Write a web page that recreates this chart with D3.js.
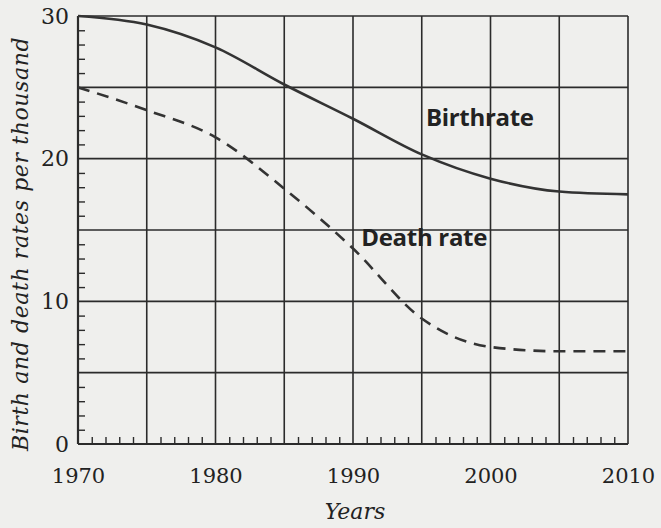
<!DOCTYPE html>
<html>
<head>
<meta charset="utf-8">
<script src="https://cdn.jsdelivr.net/npm/d3@7"></script>
<style>
  body { margin: 0; background: #efefed; }
  svg { display: block; }
</style>
</head>
<body>
<svg id="chart" width="661" height="528"></svg>
<script>
// chart values
const years = [1970, 1975, 1980, 1985, 1990, 1995, 2000, 2005, 2010];
const birthRate = [30, 29.4, 27.8, 25.2, 22.8, 20.3, 18.6, 17.7, 17.5];
const deathRate = [25, 23.4, 21.5, 17.9, 13.7, 8.8, 6.8, 6.5, 6.5];
const yTickLabels = [0, 10, 20, 30];
const xTickLabels = [1970, 1980, 1990, 2000, 2010];

const margin = { top: 16, right: 33, bottom: 84, left: 78 };
const width = 661 - margin.left - margin.right;
const height = 528 - margin.top - margin.bottom;
const ink = "#2b2b2b";

const svg = d3.select("#chart");
const g = svg.append("g").attr("transform", `translate(${margin.left},${margin.top})`);

const x = d3.scaleLinear().domain([1970, 2010]).range([0, width]);
const y = d3.scaleLinear().domain([0, 30]).range([height, 0]);

// grid every 5 units / 5 years
g.append("g")
    .selectAll("line")
    .data(d3.range(1970, 2011, 5))
    .enter()
    .append("line")
    .attr("x1", d => x(d)).attr("x2", d => x(d))
    .attr("y1", 0).attr("y2", height)
    .attr("stroke", ink).attr("stroke-width", 1.6);

g.append("g")
    .selectAll("line")
    .data(d3.range(0, 31, 5))
    .enter()
    .append("line")
    .attr("x1", 0).attr("x2", width)
    .attr("y1", d => y(d)).attr("y2", d => y(d))
    .attr("stroke", ink).attr("stroke-width", 1.6);

// minor ticks, pointing into the plot
g.append("g")
    .attr("transform", `translate(0,${height})`)
    .call(d3.axisTop(x).tickValues(d3.range(1970, 2011, 1).filter(d => d % 5 !== 0)).tickSize(7).tickFormat(""))
    .call(a => a.select(".domain").remove())
    .selectAll("line").attr("stroke", ink).attr("stroke-width", 1.4);

g.append("g")
    .call(d3.axisRight(y).tickValues(d3.range(0, 31, 1).filter(d => d % 5 !== 0)).tickSize(7).tickFormat(""))
    .call(a => a.select(".domain").remove())
    .selectAll("line").attr("stroke", ink).attr("stroke-width", 1.4);

// axis lines a bit heavier
g.append("line").attr("x1", 0).attr("x2", 0).attr("y1", 0).attr("y2", height)
    .attr("stroke", ink).attr("stroke-width", 2.2);
g.append("line").attr("x1", 0).attr("x2", width).attr("y1", height).attr("y2", height)
    .attr("stroke", ink).attr("stroke-width", 2.2);

// tick labels
g.append("g")
    .attr("transform", `translate(0,${height})`)
    .call(d3.axisBottom(x).tickValues(xTickLabels).tickSize(0).tickPadding(24).tickFormat(d3.format("d")))
    .call(a => a.select(".domain").remove())
    .selectAll("text")
    .style("font-family", "'DejaVu Serif', serif")
    .style("font-size", "21px")
    .attr("fill", "#222");

g.append("g")
    .call(d3.axisLeft(y).tickValues(yTickLabels).tickSize(0).tickPadding(9))
    .call(a => a.select(".domain").remove())
    .selectAll("text")
    .style("font-family", "'DejaVu Serif', serif")
    .style("font-size", "22px")
    .attr("fill", "#222");

// curves
const line = d3.line()
    .x((d, i) => x(years[i]))
    .y(d => y(d))
    .curve(d3.curveMonotoneX);

g.append("path")
    .datum(birthRate)
    .attr("d", line)
    .attr("fill", "none")
    .attr("stroke", "#333")
    .attr("stroke-width", 2.6);

g.append("path")
    .datum(deathRate)
    .attr("d", line)
    .attr("fill", "none")
    .attr("stroke", "#333")
    .attr("stroke-width", 2.6)
    .attr("stroke-dasharray", "12,8");

// series labels
g.append("text")
    .attr("x", x(1995.3)).attr("y", y(22.3))
    .text("Birthrate")
    .style("font-family", "'Open Sans', sans-serif")
    .style("font-weight", "bold")
    .style("font-size", "24px")
    .style("letter-spacing", "-0.3px")
    .attr("fill", "#222");

g.append("text")
    .attr("x", x(1990.6)).attr("y", y(13.9))
    .text("Death rate")
    .style("font-family", "'Open Sans', sans-serif")
    .style("font-weight", "bold")
    .style("font-size", "24px")
    .style("letter-spacing", "-0.3px")
    .attr("fill", "#222");

// axis titles
svg.append("text")
    .attr("transform", `translate(28,${margin.top + height / 2 + 14}) rotate(-90)`)
    .attr("text-anchor", "middle")
    .text("Birth and death rates per thousand")
    .style("font-family", "'DejaVu Serif', serif")
    .style("font-style", "italic")
    .style("font-size", "22px")
    .style("letter-spacing", "0.6px")
    .attr("fill", "#222");

svg.append("text")
    .attr("x", margin.left + width / 2 + 2)
    .attr("y", 519)
    .attr("text-anchor", "middle")
    .text("Years")
    .style("font-family", "'DejaVu Serif', serif")
    .style("font-style", "italic")
    .style("font-size", "22px")
    .attr("fill", "#222");
</script>
</body>
</html>
